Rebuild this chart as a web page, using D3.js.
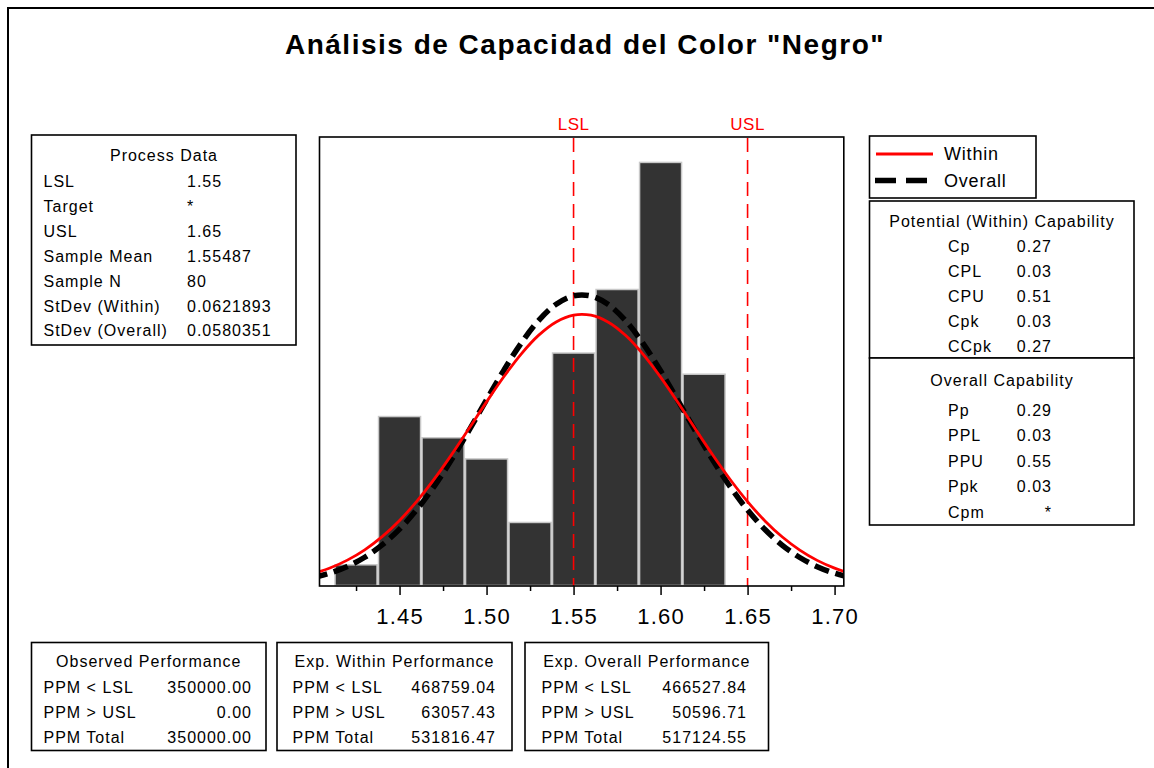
<!DOCTYPE html>
<html><head><meta charset="utf-8">
<script src="https://cdn.jsdelivr.net/npm/d3@7"></script>
<style>
body{margin:0;background:#fff;}
svg text{font-family:"Liberation Sans",Arial,sans-serif;fill:#000;}
</style></head>
<body><svg id="c" width="1154" height="768"></svg>
<script>
// ---------- data ----------
const chartTitle = 'Análisis de Capacidad del Color "Negro"';
const binEdges = [1.4125, 1.4375, 1.4625, 1.4875, 1.5125, 1.5375, 1.5625, 1.5875, 1.6125, 1.6375];
const binCounts = [1, 8, 7, 6, 3, 11, 14, 20, 10];
const curveX = [1.40,1.41,1.42,1.43,1.44,1.45,1.46,1.47,1.48,1.49,1.50,1.51,1.52,1.53,1.54,1.55,1.56,1.57,1.58,1.59,1.60,1.61,1.62,1.63,1.64,1.65,1.66,1.67,1.68,1.69,1.70,1.71];
const withinY = [0.578,0.851,1.222,1.709,2.330,3.096,4.008,5.056,6.216,7.447,8.693,9.890,10.964,11.844,12.469,12.791,12.786,12.456,11.824,10.938,9.860,8.661,7.414,6.185,5.027,3.982,3.074,2.312,1.695,1.210,0.843,0.572];
const overallY = [0.391,0.610,0.924,1.358,1.939,2.687,3.614,4.719,5.982,7.361,8.793,10.196,11.478,12.542,13.304,13.700,13.694,13.289,12.518,11.447,10.161,8.756,7.324,5.947,4.688,3.588,2.665,1.922,1.345,0.914,0.603,0.386];
const specLimits = [{name:"LSL", value:1.55},{name:"USL", value:1.65}];
const majorTicks = [1.45, 1.50, 1.55, 1.60, 1.65, 1.70];
const minorTicks = [1.425, 1.475, 1.525, 1.575, 1.625, 1.675];
const processLabels = ["LSL","Target","USL","Sample Mean","Sample N","StDev (Within)","StDev (Overall)"];
const processValues = ["1.55","*","1.65","1.55487","80","0.0621893","0.0580351"];
const withinLabels = ["Cp","CPL","CPU","Cpk","CCpk"];
const withinValues = ["0.27","0.03","0.51","0.03","0.27"];
const overallLabels = ["Pp","PPL","PPU","Ppk","Cpm"];
const overallValues = ["0.29","0.03","0.55","0.03","*"];
const perfLabels = ["PPM < LSL","PPM > USL","PPM Total"];
const observedValues = ["350000.00","0.00","350000.00"];
const expWithinValues = ["468759.04","63057.43","531816.47"];
const expOverallValues = ["466527.84","50596.71","517124.55"];
const legendNames = ["Within","Overall"];

// ---------- layout ----------
const svg = d3.select("#c");
const P = {l:319.5, r:843.8, t:137, b:586};
const x = d3.scaleLinear().domain([1.404, 1.7053]).range([P.l, P.r]);
const y = d3.scaleLinear().domain([0, 21.2]).range([P.b, P.t]);
const FS = "16px", LS = "1px";

// outer frame (only left/top visible)
svg.append("rect").attr("x",8).attr("y",8).attr("width",1170).attr("height",790)
  .attr("fill","none").attr("stroke","#000").attr("stroke-width",2);

// title
svg.append("text").attr("x",585).attr("y",54).attr("text-anchor","middle")
  .style("font-size","28px").style("font-weight","bold").style("letter-spacing","1.5px")
  .text(chartTitle);

// plot
svg.append("defs").append("clipPath").attr("id","clip").append("rect")
  .attr("x",P.l).attr("y",P.t).attr("width",P.r-P.l).attr("height",P.b-P.t);

const bins = binCounts.map((c,i)=>({x0:binEdges[i], x1:binEdges[i+1], c}));
svg.append("g").selectAll("rect").data(bins).join("rect")
  .attr("x",d=>x(d.x0)+0.75).attr("width",d=>x(d.x1)-x(d.x0)-1.5)
  .attr("y",d=>y(d.c)).attr("height",d=>y(0)-y(d.c)-0.5)
  .attr("fill","#333333").attr("stroke","#c8c8c8").attr("stroke-width",1.5);

// spec lines
const sg = svg.append("g");
sg.selectAll("line").data(specLimits).join("line")
  .attr("x1",d=>x(d.value)).attr("x2",d=>x(d.value)).attr("y1",P.t+1).attr("y2",P.b)
  .attr("stroke","#ff0000").attr("stroke-width",1.6).attr("stroke-dasharray","14,8");
sg.selectAll("text").data(specLimits).join("text")
  .attr("x",d=>x(d.value)).attr("y",130).attr("text-anchor","middle")
  .style("font-size","17px").style("fill","#ff0000").style("letter-spacing","0.5px")
  .text(d=>d.name);

// curves
const pts = (arr)=>curveX.map((v,i)=>[v,arr[i]]);
const line = d3.line().x(d=>x(d[0])).y(d=>y(d[1])).curve(d3.curveCatmullRom);
const cg = svg.append("g").attr("clip-path","url(#clip)");
cg.append("path").attr("d",line(pts(overallY))).attr("fill","none")
  .attr("stroke","#000").attr("stroke-width",5.5).attr("stroke-dasharray","15,7");
cg.append("path").attr("d",line(pts(withinY))).attr("fill","none")
  .attr("stroke","#ff0000").attr("stroke-width",2.8);

// plot frame
svg.append("rect").attr("x",P.l).attr("y",P.t).attr("width",P.r-P.l).attr("height",P.b-P.t)
  .attr("fill","none").attr("stroke","#000").attr("stroke-width",1.6);

// axes
const ax = svg.append("g").attr("transform",`translate(0,${P.b})`)
  .call(d3.axisBottom(x).tickValues(majorTicks).tickSize(9).tickPadding(13).tickFormat(d3.format(".2f")));
ax.select(".domain").remove();
ax.selectAll("line").attr("stroke","#000").attr("stroke-width",1.5);
ax.selectAll("text").style("font-size","22px").style("letter-spacing","1.2px")
  .style("font-family",'"Liberation Sans",Arial,sans-serif').attr("fill","#000");
const axm = svg.append("g").attr("transform",`translate(0,${P.b})`)
  .call(d3.axisBottom(x).tickValues(minorTicks).tickSize(5).tickFormat(""));
axm.select(".domain").remove();
axm.selectAll("line").attr("stroke","#000").attr("stroke-width",1.5);

// helper for boxes
function box(x0,y0,x1,y1){
  svg.append("rect").attr("x",x0).attr("y",y0).attr("width",x1-x0).attr("height",y1-y0)
    .attr("fill","#fff").attr("stroke","#000").attr("stroke-width",1.6);
}
function txt(xp,yp,s,anchor){
  return svg.append("text").attr("x",xp).attr("y",yp).attr("text-anchor",anchor||"start")
    .style("font-size",FS).style("letter-spacing",LS).text(s);
}

// Process Data box
box(31.5,135,296,345);
txt(164,160.5,"Process Data","middle");
processLabels.forEach((s,i)=>{ txt(43.5,187+i*24.9,s); txt(187,187+i*24.9,processValues[i]); });

// Legend box
box(869.5,136,1036,198);
svg.append("line").attr("x1",876).attr("x2",933).attr("y1",154).attr("y2",154)
  .attr("stroke","#ff0000").attr("stroke-width",2.8);
svg.append("line").attr("x1",875).attr("x2",929).attr("y1",180.5).attr("y2",180.5)
  .attr("stroke","#000").attr("stroke-width",5.5).attr("stroke-dasharray","21,10");
svg.append("text").attr("x",944).attr("y",160).style("font-size","18px").style("letter-spacing","0.8px").text(legendNames[0]);
svg.append("text").attr("x",944).attr("y",187).style("font-size","18px").style("letter-spacing","0.8px").text(legendNames[1]);

// Capability boxes
box(869.5,201,1134,358);
box(869.5,358,1134,525);
txt(1002,226.5,"Potential (Within) Capability","middle");
withinLabels.forEach((s,i)=>{ txt(948,251.5+i*25.2,s); txt(1052,251.5+i*25.2,withinValues[i],"end"); });
txt(1002,385.5,"Overall Capability","middle");
overallLabels.forEach((s,i)=>{ txt(948,415.5+i*25.5,s); txt(1052,415.5+i*25.5,overallValues[i],"end"); });

// Performance boxes
const perf = [
  {x0:31.5, x1:266, title:"Observed Performance", lx:43.5, vx:252, vals:observedValues},
  {x0:277, x1:512, title:"Exp. Within Performance", lx:292.5, vx:496, vals:expWithinValues},
  {x0:525, x1:768.5, title:"Exp. Overall Performance", lx:541.5, vx:747, vals:expOverallValues}
];
perf.forEach(p=>{
  box(p.x0,642.5,p.x1,750.5);
  txt((p.x0+p.x1)/2,667,p.title,"middle");
  perfLabels.forEach((s,i)=>{ txt(p.lx,692.5+i*25,s); txt(p.vx,692.5+i*25,p.vals[i],"end"); });
});
</script></body></html>
